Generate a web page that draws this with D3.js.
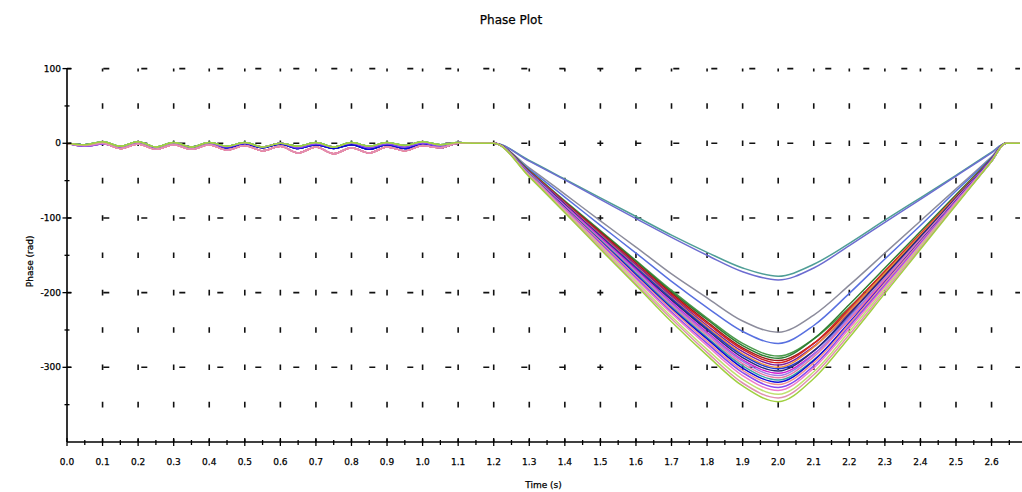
<!DOCTYPE html>
<html>
<head>
<meta charset="utf-8">
<script src="https://cdn.jsdelivr.net/npm/d3@7"></script>
<style>
  body { margin: 0; background: #fff; }
  svg { display: block; font-family: "DejaVu Sans", sans-serif; }
  text { stroke: #000; stroke-width: 0.25px; }
</style>
</head>
<body>
<svg id="chart" width="1022" height="492"></svg>
<script>
// time samples (s): wiggly phase before 1.2 s, then the dip
const timeEarly = [0.00, 0.05, 0.10, 0.15, 0.20, 0.25, 0.30, 0.35, 0.40, 0.45, 0.50, 0.55,
                   0.60, 0.65, 0.70, 0.75, 0.80, 0.85, 0.90, 0.95, 1.00, 1.05, 1.10, 1.15];
const timeDip = [1.2, 1.3, 1.4, 1.5, 1.6, 1.7, 1.8, 1.9, 2.0, 2.1, 2.2, 2.3, 2.4, 2.5, 2.6, 2.64, 2.68];

// early ripple shapes (rad)
const wiggleA = [0, -2, 1, -6, 0, -7, -1, -5, 0, -6, -1, -6, -1, -7, -2, -7, -2, -8, -2, -7, -1, -6, 0, 0];
const wiggleB = [0, -3, 0, -7, -1, -8, -2, -8, -2, -9, -3, -10, -4, -13, -5, -14, -6, -13, -5, -10, -3, -6, 0, 0];
const wiggleC = [0, -4, -1, -5, 1, -6, 0, -8, -1, -5, 0, -5, 0, -6, -1, -5, 0, -6, -1, -5, 0, -4, 1, 0];
const wiggleD = [0, -2, 2, -4, 2, -5, 1, -5, 1, -4, 1, -5, 0, -4, 1, -5, 1, -4, 1, -3, 2, -2, 1, 0];
const wiggles = [wiggleA, wiggleB, wiggleC, wiggleD];

const seriesColors = [
  "#4f9e96", "#6c6cd0", "#8c8c9c", "#5870e0",
  "#4a9a4a", "#2e7d32", "#9b1c1c", "#d62020", "#7b1fa2", "#f08c3c",
  "#1e3cd0", "#282878", "#d020d0", "#9c7ce6", "#e87ca8", "#3aa0a0",
  "#0a0ad8", "#f09090", "#8a4af0", "#f07cc8", "#c0e070", "#e090b0", "#a0d040"
];
const seriesWiggle = [3, 0, 2, 0, 3, 3, 1, 1, 2, 1, 0, 0, 2, 2, 1, 3, 0, 1, 2, 1, 3, 1, 3];

const seriesDip = [
  [0, -23, -48, -73, -98, -123, -146, -167, -178, -162, -134, -103, -73, -43, -12, 0, 0],
  [0, -24, -49, -75, -101, -126, -150, -172, -183, -167, -137, -106, -75, -44, -13, 0, 0],
  [0, -33, -68, -104, -139, -175, -207, -238, -253, -230, -190, -147, -104, -61, -18, 0, 0],
  [0, -35, -72, -110, -147, -185, -220, -252, -268, -244, -201, -155, -110, -64, -19, 0, 0],
  [0, -37, -77, -117, -157, -197, -234, -268, -285, -262, -220, -172, -123, -73, -22, 0, 0],
  [0, -37, -78, -118, -158, -199, -236, -271, -288, -262, -216, -167, -118, -69, -20, 0, 0],
  [0, -38, -79, -119, -160, -201, -239, -274, -291, -268, -224, -175, -125, -74, -22, 0, 0],
  [0, -38, -79, -121, -162, -203, -241, -276, -294, -268, -221, -171, -121, -71, -21, 0, 0],
  [0, -39, -80, -122, -163, -205, -244, -279, -297, -272, -227, -178, -128, -76, -23, 0, 0],
  [0, -39, -81, -123, -165, -207, -246, -282, -300, -273, -225, -174, -123, -72, -21, 0, 0],
  [0, -39, -82, -124, -166, -208, -248, -284, -302, -278, -232, -182, -131, -78, -24, 0, 0],
  [0, -40, -82, -125, -168, -210, -250, -287, -305, -278, -229, -177, -125, -73, -21, 0, 0],
  [0, -40, -83, -126, -169, -213, -253, -290, -308, -282, -236, -185, -133, -80, -24, 0, 0],
  [0, -40, -84, -128, -171, -215, -255, -292, -311, -283, -233, -180, -128, -75, -22, 0, 0],
  [0, -41, -85, -129, -173, -217, -257, -295, -314, -286, -236, -182, -129, -75, -22, 0, 0],
  [0, -41, -86, -130, -174, -219, -260, -298, -317, -290, -242, -190, -136, -81, -24, 0, 0],
  [0, -42, -86, -131, -176, -221, -262, -301, -320, -291, -240, -186, -131, -77, -22, 0, 0],
  [0, -42, -87, -132, -178, -223, -265, -304, -323, -294, -242, -187, -132, -78, -23, 0, 0],
  [0, -43, -88, -134, -180, -226, -268, -307, -327, -298, -245, -190, -134, -78, -23, 0, 0],
  [0, -43, -89, -136, -182, -228, -271, -311, -331, -301, -248, -192, -136, -79, -23, 0, 0],
  [0, -44, -91, -138, -185, -232, -276, -316, -336, -306, -252, -195, -138, -81, -24, 0, 0],
  [0, -44, -92, -140, -188, -235, -280, -321, -341, -310, -256, -198, -140, -82, -24, 0, 0],
  [0, -45, -93, -142, -190, -239, -284, -325, -346, -315, -260, -201, -142, -83, -24, 0, 0]
];

const yMajor = [100, 0, -100, -200, -300];
const yMinor = [50, -50, -150, -250, -350];
const xMajor = d3.range(0, 27).map(i => i / 10);
const xMinor = d3.range(0, 27).map(i => i / 10 + 0.05);

const svg = d3.select("#chart");
const x = d3.scaleLinear().domain([0, 2.68]).range([67, 1020]);
const y = d3.scaleLinear().domain([-400, 100]).range([442, 68.6]);

// dashed grid: vertical lines give short dashes at every 50 rad
const step = y(0) - y(50);
svg.append("g").selectAll("line")
  .data(xMajor.filter(d => d > 0))
  .enter().append("line")
  .attr("x1", d => x(d)).attr("x2", d => x(d))
  .attr("y1", y(-400)).attr("y2", y(100))
  .attr("stroke", "#111").attr("stroke-width", 1.6)
  .attr("stroke-dasharray", `5.6 ${step - 5.6}`)
  .attr("stroke-dashoffset", 2.8);

svg.append("g").selectAll("line")
  .data(yMajor)
  .enter().append("line")
  .attr("x1", x(0)).attr("x2", x(2.68))
  .attr("y1", d => y(d)).attr("y2", d => y(d))
  .attr("stroke", "#111").attr("stroke-width", 1.6)
  .attr("stroke-dasharray", "6 32")
  .attr("stroke-dashoffset", 1.7);

// curves
const line = d3.line()
  .x(d => x(d[0]))
  .y(d => y(d[1]))
  .curve(d3.curveMonotoneX);

const seriesPoints = seriesDip.map((dip, i) => {
  const w = wiggles[seriesWiggle[i]];
  return timeEarly.map((t, k) => [t, w[k]]).concat(timeDip.map((t, k) => [t, dip[k]]));
});

svg.append("g").selectAll("path")
  .data(seriesPoints)
  .enter().append("path")
  .attr("d", line)
  .attr("fill", "none")
  .attr("stroke", (d, i) => seriesColors[i])
  .attr("stroke-width", 1.5);

// axes
const axis = svg.append("g").attr("stroke", "#000");
axis.append("line")
  .attr("x1", x(0)).attr("x2", x(0)).attr("y1", y(100)).attr("y2", y(-400))
  .attr("stroke-width", 1.6);
axis.append("line")
  .attr("x1", x(0)).attr("x2", 1022).attr("y1", y(-400)).attr("y2", y(-400))
  .attr("stroke-width", 1.6);
axis.selectAll(".ymaj").data(yMajor).enter().append("line")
  .attr("x1", x(0) - 4.5).attr("x2", x(0) + 4.5)
  .attr("y1", d => y(d)).attr("y2", d => y(d)).attr("stroke-width", 1.3);
axis.selectAll(".ymin").data(yMinor).enter().append("line")
  .attr("x1", x(0) - 2.5).attr("x2", x(0) + 2.5)
  .attr("y1", d => y(d)).attr("y2", d => y(d)).attr("stroke-width", 1.3);
axis.selectAll(".xmaj").data(xMajor).enter().append("line")
  .attr("x1", d => x(d)).attr("x2", d => x(d))
  .attr("y1", y(-400) - 4).attr("y2", y(-400) + 4).attr("stroke-width", 1.3);
axis.selectAll(".xmin").data(xMinor).enter().append("line")
  .attr("x1", d => x(d)).attr("x2", d => x(d))
  .attr("y1", y(-400) - 2).attr("y2", y(-400) + 3).attr("stroke-width", 1.3);

const fmt = d3.format(".1f");
svg.append("g").selectAll("text")
  .data(yMajor)
  .enter().append("text")
  .attr("x", x(0) - 6).attr("y", d => y(d))
  .attr("dy", "0.35em")
  .attr("text-anchor", "end")
  .attr("font-size", 9)
  .text(d => d);

svg.append("g").selectAll("text")
  .data(xMajor)
  .enter().append("text")
  .attr("x", d => x(d)).attr("y", 465)
  .attr("text-anchor", "middle")
  .attr("font-size", 9)
  .text(d => fmt(d));

svg.append("text")
  .attr("x", 511).attr("y", 24)
  .attr("text-anchor", "middle")
  .attr("font-size", 12)
  .text("Phase Plot");

svg.append("text")
  .attr("x", (x(0) + x(2.68)) / 2).attr("y", 488)
  .attr("text-anchor", "middle")
  .attr("font-size", 9)
  .text("Time (s)");

svg.append("text")
  .attr("transform", `translate(33, ${(y(100) + y(-400)) / 2 + 6}) rotate(-90)`)
  .attr("text-anchor", "middle")
  .attr("font-size", 9)
  .text("Phase (rad)");
</script>
</body>
</html>
